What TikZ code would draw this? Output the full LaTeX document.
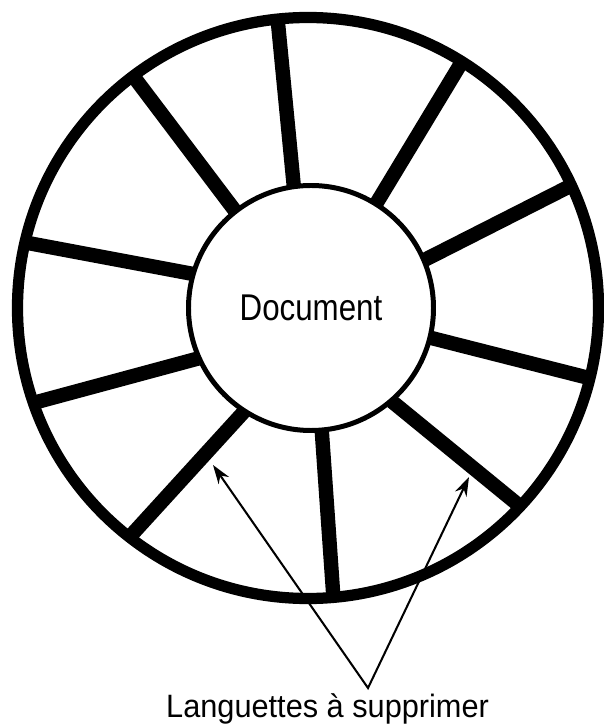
\documentclass[tikz,border=0pt]{standalone}
\usepackage{fontspec}
\setmainfont{Liberation Sans}
\newfontfamily\docfont[FakeStretch=0.84]{Liberation Sans}
\newfontfamily\legendfont[FakeStretch=0.95]{Liberation Sans}
\usetikzlibrary{arrows.meta}

\begin{document}
\begin{tikzpicture}[
		languette/.style={line width=20.5pt, shorten <=-2pt, shorten >=4pt},
		fleche/.style={line width=2.9pt, {Stealth[length=27pt,width=18pt]}-{Stealth[length=27pt,width=18pt]}}]
		\useasboundingbox (-15.4,-20.8) rectangle (14.75,15.4);

		% --- outer ring and document ---
		\node[circle, draw, line width=16pt, minimum size=29.05cm, inner sep=0pt] (rim) at (0,0) {};
		\node[circle, draw, line width=7.1pt, fill=white, minimum size=12.25cm, inner sep=0pt,
			font=\docfont\fontsize{53}{54}\selectfont] (doc) at (0.15,0) {Document};

		% --- the ten tabs ---
		\foreach \a/\b in {98.2/96.2, 128.7/127.2, 164.7/167.7, 204.5/199.1, 237.2/232.4,
			275.5/275.9, 311.6/317.1, 346.4/346.9, 23.1/25.7, 58.6/58.5}
			\draw[languette] (doc.\a) -- (rim.\b);

		% --- label and arrows ---
		\node[anchor=base, font=\legendfont\fontsize{46}{48}\selectfont] (legende) at (0.98,-20.45) {Languettes à supprimer};
		\coordinate (sommet) at (3.0,-19.0);
		\coordinate (pointeG) at (-4.75,-7.85);
		\coordinate (pointeD) at (8.05,-8.45);
		\draw[fleche] (pointeG) -- (sommet) -- (pointeD);
	\end{tikzpicture}
\end{document}
